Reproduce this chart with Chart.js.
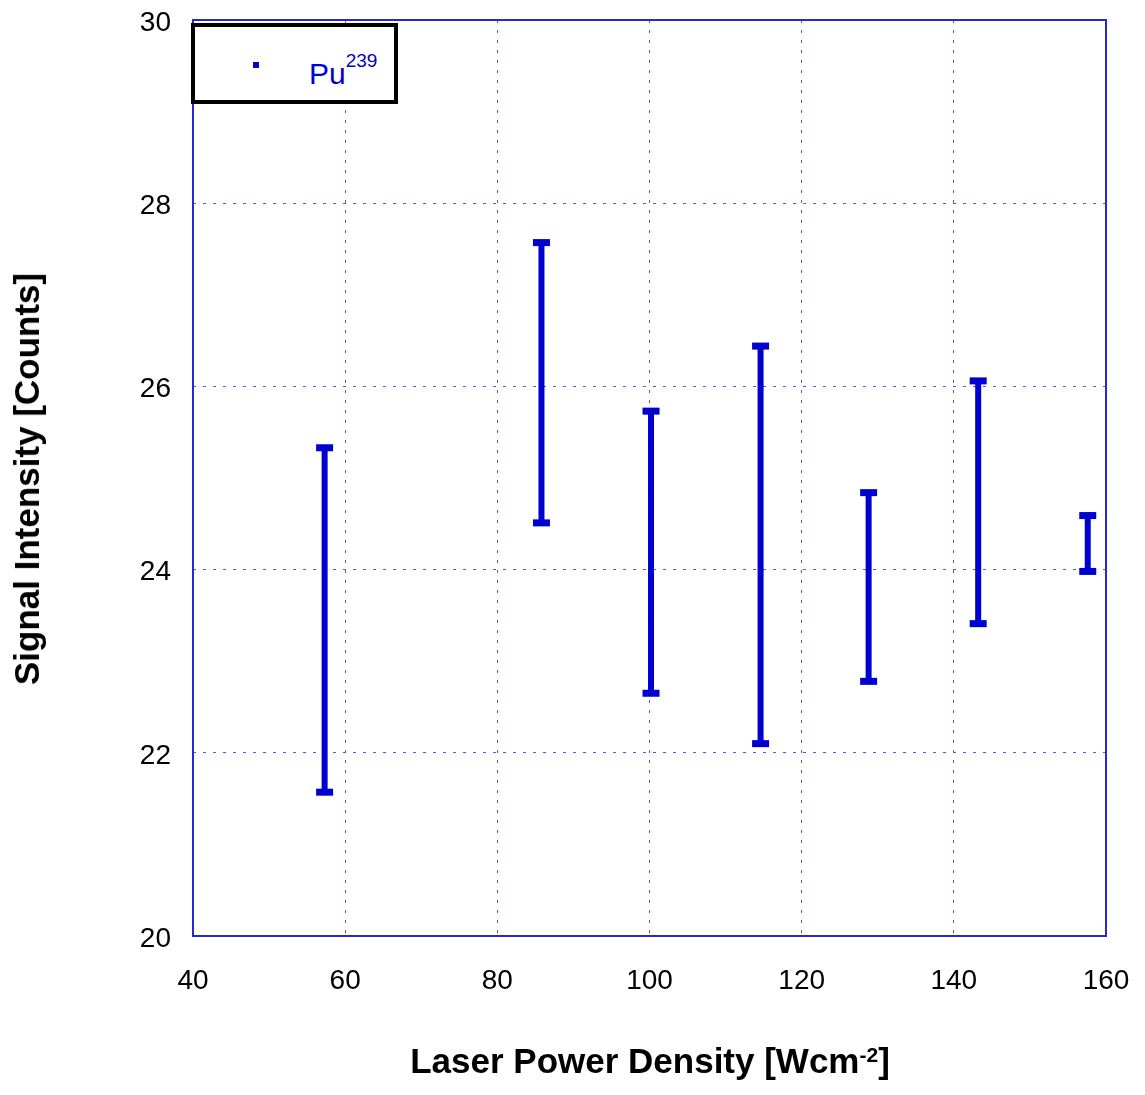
<!DOCTYPE html>
<html>
<head>
<meta charset="utf-8">
<script src="https://cdn.jsdelivr.net/npm/chart.js@4"></script>
<style>
  body { margin: 0; background: #fff; }
  #wrap { position: relative; width: 1145px; height: 1095px; font-family: 'Liberation Sans', Arial, sans-serif; }
  #chart { position: absolute; left: 0; top: 0; }
  .xtitle { position: absolute; left: 650px; top: 1045px; transform: translateX(-50%); font-size: 35px; line-height: 32px; font-weight: bold; white-space: nowrap; }
  .xtitle span { font-size: 21px; position: relative; top: -11px; }
  .ytitle { position: absolute; left: 27px; top: 479px; transform: translate(-50%, -50%) rotate(-90deg); font-size: 35px; line-height: 32px; font-weight: bold; white-space: nowrap; }
  .legend { position: absolute; left: 191px; top: 23px; width: 207px; height: 81px; box-sizing: border-box; border: 4px solid #000; background: #fff; }
  .legend .mark { position: absolute; left: 58px; top: 35px; width: 6px; height: 6px; background: #0000d0; }
  .legend .lbl { position: absolute; left: 114px; top: 32px; font-size: 30px; line-height: 30px; color: #0000d0; white-space: nowrap; }
  .legend .lbl span { font-size: 19px; position: relative; top: -17px; }
</style>
</head>
<body>
<div id="wrap">
  <canvas id="chart" width="1145" height="1095"></canvas>
  <div class="legend"><div class="mark"></div><div class="lbl">Pu<span>239</span></div></div>
  <div class="ytitle">Signal Intensity [Counts]</div>
  <div class="xtitle">Laser Power Density [Wcm<span>-2</span>]</div>
</div>
<script>
// laser power density of each measurement
const power = [57.3, 85.8, 100.2, 114.6, 128.8, 143.2, 157.6];
// lower and upper end of each error bar
const lower = [21.57, 24.51, 22.65, 22.10, 22.78, 23.41, 23.98];
const upper = [25.33, 27.57, 25.73, 26.44, 24.84, 26.06, 24.59];

const xTicks = [40, 60, 80, 100, 120, 140, 160];
const yTicks = [20, 22, 24, 26, 28, 30];

const barColor = '#0000d0';
const gridColor = 'rgb(85, 85, 222)';

// vertical stems: pairs of points split by a null so each bar stands alone
const stems = [];
power.forEach((x, i) => {
    stems.push({x: x, y: lower[i]});
    stems.push({x: x, y: upper[i]});
    stems.push({x: x, y: null});
});

const caps = [];
power.forEach((x, i) => {
    caps.push({x: x, y: lower[i]});
    caps.push({x: x, y: upper[i]});
});

const framePlugin = {
    id: 'frame',
    beforeDatasetsDraw(chart) {
        const a = chart.chartArea;
        const ctx = chart.ctx;
        ctx.save();
        ctx.strokeStyle = 'rgb(40, 40, 210)';
        ctx.lineWidth = 2;
        ctx.strokeRect(a.left, a.top, a.right - a.left, a.bottom - a.top);
        ctx.restore();
    }
};

new Chart(document.getElementById('chart'), {
    type: 'line',
    data: {
        datasets: [{
            data: stems,
            borderColor: barColor,
            borderWidth: 6,
            borderCapStyle: 'butt',
            pointRadius: 0,
            spanGaps: false,
            tension: 0
        }, {
            type: 'scatter',
            data: caps,
            pointStyle: 'line',
            radius: 8.5,
            borderColor: barColor,
            borderWidth: 7,
            showLine: false
        }]
    },
    options: {
        responsive: false,
        animation: false,
        layout: { padding: { left: 0, top: 20, right: 39, bottom: 0 } },
        plugins: {
            legend: { display: false },
            tooltip: { enabled: false }
        },
        scales: {
            x: {
                type: 'linear',
                min: 40,
                max: 160,
                afterBuildTicks: s => { s.ticks = xTicks.map(v => ({value: v})); },
                afterFit: s => { s.height = 159; s.paddingLeft = 0; s.paddingRight = 0; },
                grid: { color: gridColor, lineWidth: 1, drawTicks: false },
                border: { display: false, dash: [3, 7] },
                ticks: { color: '#000', padding: 28, font: { family: 'Liberation Sans', size: 28 } }
            },
            y: {
                type: 'linear',
                min: 20,
                max: 30,
                afterBuildTicks: s => { s.ticks = yTicks.map(v => ({value: v})); },
                afterFit: s => { s.width = 193; s.paddingTop = 0; s.paddingBottom = 0; },
                grid: { color: gridColor, lineWidth: 1, drawTicks: false },
                border: { display: false, dash: [3, 7] },
                ticks: { color: '#000', padding: 22, labelOffset: 3, font: { family: 'Liberation Sans', size: 28 } }
            }
        }
    },
    plugins: [framePlugin]
});
</script>
</body>
</html>
